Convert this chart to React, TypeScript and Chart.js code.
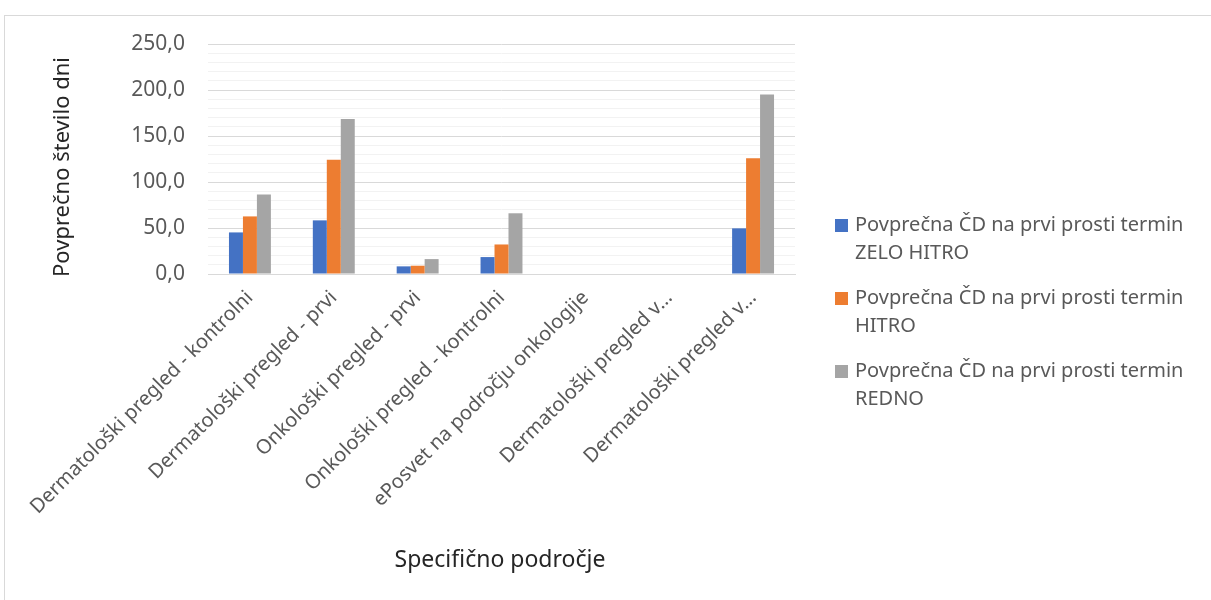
import React, { useEffect, useRef } from "react";
import { Chart, registerables } from "chart.js";
Chart.register(...registerables);

const categories = [
  "Dermatološki pregled - kontrolni",
  "Dermatološki pregled - prvi",
  "Onkološki pregled - prvi",
  "Onkološki pregled - kontrolni",
  "ePosvet na področju onkologije",
  "Dermatološki pregled v…",
  "Dermatološki pregled v…",
];
const zeloHitro = [45.2, 58.3, 8.3, 18.4, null, null, 49.6];
const hitro = [62.6, 124.2, 9.0, 32.1, null, null, 125.7];
const redno = [86.5, 168.5, 16.2, 66.0, null, null, 195.2];
const seriesNames = [
  "Povprečna ČD na prvi prosti termin ZELO HITRO",
  "Povprečna ČD na prvi prosti termin HITRO",
  "Povprečna ČD na prvi prosti termin REDNO",
];
const seriesColors = ["#4472C4", "#ED7D31", "#A5A5A5"];
const yTitle = "Povprečno število dni";
const xTitle = "Specifično področje";
const yMax = 250;

const FONT = "'Noto Sans', sans-serif";

function wrap(ctx: CanvasRenderingContext2D, text: string, maxW: number) {
  const words = text.split(" ");
  const lines: string[] = [];
  let cur = "";
  for (const w of words) {
    const t = cur ? cur + " " + w : w;
    if (ctx.measureText(t).width > maxW && cur) {
      lines.push(cur);
      cur = w;
    } else cur = t;
  }
  if (cur) lines.push(cur);
  return lines;
}

const decorPlugin = {
  id: "decor",
  beforeDraw(chart: any) {
    const ctx = chart.ctx as CanvasRenderingContext2D;
    ctx.save();
    ctx.fillStyle = "#ffffff";
    ctx.fillRect(0, 0, chart.width, chart.height);
    ctx.strokeStyle = "#d9d9d9";
    ctx.lineWidth = 1;
    ctx.strokeRect(4.5, 15.5, chart.width + 100, chart.height + 100);
    ctx.restore();
  },
  afterDraw(chart: any) {
    const ctx = chart.ctx as CanvasRenderingContext2D;
    ctx.save();
    ctx.fillStyle = "#262626";
    ctx.font = `22px ${FONT}`;
    ctx.textAlign = "center";
    ctx.textBaseline = "middle";
    ctx.translate(63, 167);
    ctx.rotate(-Math.PI / 2);
    ctx.fillText(yTitle, 0, 0);
    ctx.restore();

    ctx.save();
    ctx.fillStyle = "#262626";
    ctx.font = `23px ${FONT}`;
    ctx.textAlign = "center";
    ctx.textBaseline = "middle";
    ctx.fillText(xTitle, 500, 560);
    ctx.restore();

    ctx.save();
    ctx.font = `20px ${FONT}`;
    ctx.textBaseline = "middle";
    ctx.textAlign = "left";
    const x0 = 835;
    let y = 225;
    chart.data.datasets.forEach((ds: any) => {
      ctx.fillStyle = ds.backgroundColor;
      ctx.fillRect(x0, y - 6, 13, 13);
      ctx.fillStyle = "#595959";
      const lines = wrap(ctx, ds.label, 352);
      lines.forEach((ln, j) => ctx.fillText(ln, x0 + 20, y + j * 28));
      y += 73;
    });
    ctx.restore();
  },
};

export default function App() {
  const ref = useRef<HTMLCanvasElement>(null);
  useEffect(() => {
    if (!ref.current) return;
    const data = [zeloHitro, hitro, redno];
    const chart = new Chart(ref.current, {
      type: "bar",
      data: {
        labels: categories,
        datasets: seriesNames.map((n, i) => ({
          label: n,
          data: data[i] as any,
          backgroundColor: seriesColors[i],
          borderWidth: 0,
          categoryPercentage: 0.5,
          barPercentage: 1,
        })),
      },
      options: {
        animation: false,
        responsive: true,
        maintainAspectRatio: false,
        layout: { padding: { left: 40, right: 416, top: 44, bottom: 0 } },
        plugins: {
          legend: { display: false },
          tooltip: { enabled: false },
          title: { display: false },
        },
        scales: {
          x: {
            grid: { display: false },
            border: { display: true, color: "#d9d9d9", width: 1 },
            ticks: {
              color: "#595959",
              font: { family: "'Noto Sans', sans-serif", size: 20 },
              maxRotation: 45,
              minRotation: 45,
              autoSkip: false,
              padding: 4,
            },
            afterFit: (s: any) => {
              s.height = 326;
            },
          },
          y: {
            min: 0,
            max: yMax,
            grid: {
              color: (c: any) =>
                c.tick && c.tick.value % 50 === 0 ? "#d9d9d9" : "#f2f2f2",
              drawTicks: false,
            },
            border: { display: false },
            ticks: {
              stepSize: 10,
              autoSkip: false,
              color: "#595959",
              font: { family: "'Noto Sans', sans-serif", size: 21 },
              padding: 23,
              callback: (v: any) =>
                Number(v) % 50 === 0 ? Number(v).toFixed(1).replace(".", ",") : "",
            },
            afterFit: (s: any) => {
              s.width = 168;
            },
          },
        },
      },
      plugins: [decorPlugin],
    });
    return () => chart.destroy();
  }, []);
  return (
    <div style={{ position: "absolute", left: 0, top: 0, width: 1211, height: 600 }}>
      <canvas ref={ref} />
    </div>
  );
}
